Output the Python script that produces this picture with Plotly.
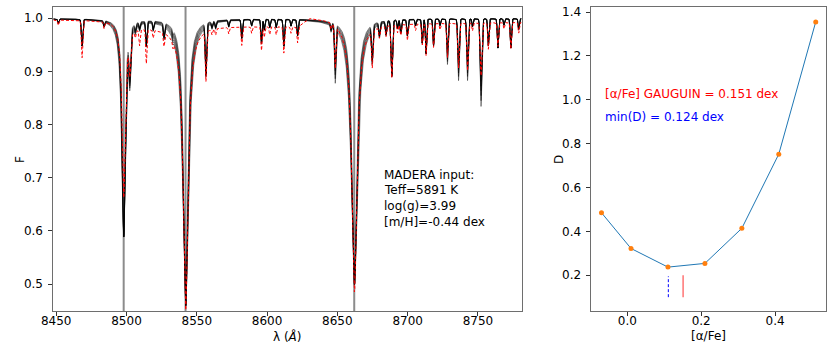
import numpy as np
import plotly.graph_objects as go

# --- spectrum: Ca II triplet region ---
ca_center = [8498.02, 8542.09, 8662.14]
ca_depth_model = [0.41, 0.54, 0.50]
ca_depth_obs = [0.33, 0.54, 0.51]
ca_gamma = [1.4, 2.1, 2.3]
ca_marks = [8498.0, 8542.0, 8662.0]

line_center = [8451.5, 8468.4, 8484.0, 8502.4, 8506.3, 8509.3, 8514.1, 8519.0,
               8526.7, 8533.0, 8556.5, 8560.8, 8563.4, 8572.7, 8582.0, 8589.0,
               8596.0, 8598.0, 8601.9, 8606.5, 8611.9, 8617.0, 8621.7, 8645.5,
               8648.5, 8674.8, 8679.9, 8684.6, 8688.7, 8692.8, 8695.1, 8699.8,
               8705.6, 8710.4, 8713.1, 8718.4, 8723.0, 8728.3, 8736.2, 8742.6,
               8746.1, 8752.2, 8757.4, 8764.2, 8768.5, 8773.4, 8779.0]
line_depth_model = [0.008, 0.05, 0.01, 0.085, 0.012, 0.012, 0.045, 0.015,
                    0.025, 0.01, 0.095, 0.01, 0.012, 0.012, 0.035, 0.012,
                    0.045, 0.02, 0.015, 0.015, 0.05, 0.012, 0.03, 0.012,
                    0.085, 0.065, 0.025, 0.025, 0.105, 0.015, 0.025, 0.03,
                    0.012, 0.045, 0.065, 0.05, 0.012, 0.07, 0.095, 0.095,
                    0.015, 0.135, 0.05, 0.055, 0.012, 0.055, 0.02]
line_depth_obs = [0.01, 0.07, 0.012, 0.07, 0.012, 0.03, 0.065, 0.015,
                  0.025, 0.012, 0.095, 0.01, 0.012, 0.012, 0.035, 0.012,
                  0.045, 0.02, 0.015, 0.015, 0.05, 0.012, 0.03, 0.012,
                  0.08, 0.07, 0.02, 0.02, 0.1, 0.015, 0.02, 0.03,
                  0.012, 0.04, 0.06, 0.045, 0.012, 0.065, 0.085, 0.09,
                  0.015, 0.1, 0.05, 0.045, 0.012, 0.05, 0.02]
line_sigma = [0.4, 0.5, 0.4, 0.6, 0.4, 0.4, 0.45, 0.4,
              0.45, 0.4, 0.5, 0.4, 0.4, 0.4, 0.45, 0.4,
              0.45, 0.4, 0.4, 0.4, 0.45, 0.4, 0.45, 0.4,
              0.5, 0.5, 0.45, 0.45, 0.55, 0.4, 0.45, 0.45,
              0.4, 0.45, 0.45, 0.45, 0.4, 0.5, 0.55, 0.55,
              0.4, 0.6, 0.45, 0.45, 0.4, 0.45, 0.4]
line_alpha = [0, 0, 0, 0, 0, 0, 0, 0, 0, 0, 0, 0, 0, 0, 0, 0,
              0, 0, 0, 0, 0, 0, 0, 0, 1, 0, 0, 0, 0, 0, 0, 0,
              0, 0, 0, 0, 0, 1, 1, 1, 0, 1, 0, 0, 0, 0, 0]

# model grid: one synthetic spectrum per [alpha/Fe]
ca_scale = [0.86, 0.91, 0.96, 1.01, 1.07, 1.13, 1.20]
alpha_line_scale = [0.8, 0.87, 0.94, 1.0, 1.07, 1.14, 1.22]
model_cont = 0.999

obs_cont_wl = [8448, 8490, 8505, 8535, 8560, 8622, 8630, 8646, 8660, 8700, 8781]
obs_cont = [0.997, 0.996, 0.985, 0.98, 0.985, 0.985, 1.002, 1.0, 0.99, 0.99, 0.992]

# --- right panel: distance D vs [alpha/Fe] ---
alpha_fe = [-0.07, 0.01, 0.11, 0.21, 0.31, 0.41, 0.51]
dist = [0.485, 0.322, 0.237, 0.254, 0.414, 0.752, 1.355]
alpha_gauguin = 0.151
alpha_min_d = 0.111

wl = np.arange(8448.0, 8781.05, 0.1)


def spectrum(depths, scale_lines, ca_depths, ca_widths, cont):
    f = np.array(cont, dtype=float) * np.ones_like(wl)
    for c, d, s, a in zip(line_center, depths, line_sigma, line_alpha):
        dd = d * (scale_lines if a else 1.0)
        f *= 1 - dd * np.exp(-0.5 * ((wl - c) / s) ** 2)
    for c, d, g in zip(ca_center, ca_depths, ca_widths):
        f *= 1 - d / (1 + ((wl - c) / g) ** 2)
    return f


fig = go.Figure()

for cs, ls in zip(ca_scale, alpha_line_scale):
    fm = spectrum(line_depth_model, ls, ca_depth_model,
                  [g * cs for g in ca_gamma], model_cont)
    fig.add_trace(go.Scatter(x=wl, y=fm, mode="lines",
                             line=dict(color="rgba(0,0,0,0.45)", width=1),
                             hoverinfo="skip", xaxis="x", yaxis="y"))

fo = spectrum(line_depth_obs, 1.0, ca_depth_obs,
              [g * 0.98 for g in ca_gamma], np.interp(wl, obs_cont_wl, obs_cont))
fig.add_trace(go.Scatter(x=wl, y=fo, mode="lines",
                         line=dict(color="red", width=1, dash="3px,2px"),
                         hoverinfo="skip", xaxis="x", yaxis="y"))

for xm in ca_marks:
    fig.add_shape(type="line", xref="x", yref="y domain", x0=xm, x1=xm, y0=0, y1=1,
                  line=dict(color="#8c8c8c", width=2), layer="below")

fig.add_trace(go.Scatter(x=alpha_fe, y=dist, mode="lines",
                         line=dict(color="#1f77b4", width=1), xaxis="x2", yaxis="y2"))
fig.add_trace(go.Scatter(x=alpha_fe, y=dist, mode="markers",
                         marker=dict(color="#ff7f0e", size=5), xaxis="x2", yaxis="y2"))
fig.add_trace(go.Scatter(x=[alpha_min_d, alpha_min_d], y=[0.1, 0.195], mode="lines",
                         line=dict(color="blue", width=1, dash="3px,2px"),
                         xaxis="x2", yaxis="y2"))
fig.add_trace(go.Scatter(x=[alpha_gauguin, alpha_gauguin], y=[0.1, 0.2], mode="lines",
                         line=dict(color="rgba(255,0,0,0.55)", width=1.5),
                         xaxis="x2", yaxis="y2"))

W, H = 830, 347
FONT = "DejaVu Sans"


def px(x, y):
    return x / W, 1 - y / H


ax = dict(showgrid=False, zeroline=False, showline=True, mirror=True,
          linecolor="#6e6e6e", linewidth=1, ticks="outside", ticklen=4,
          tickcolor="#333", tickfont=dict(size=12, color="black"))
xax = dict(ax, ticklabelstandoff=-6)
yax = dict(ax, ticklabelstandoff=3)

ydom = [1 - 311 / H, 1 - 5 / H]
fig.update_layout(
    width=W, height=H,
    margin=dict(l=0, r=0, t=0, b=0),
    paper_bgcolor="white", plot_bgcolor="white",
    font=dict(family=FONT, size=12, color="black"),
    showlegend=False,
    xaxis=dict(xax, domain=[42 / W, 517 / W], range=[8448, 8781],
               tickvals=[8450, 8500, 8550, 8600, 8650, 8700, 8750]),
    yaxis=dict(yax, domain=ydom, range=[0.449, 1.021],
               tickvals=[0.5, 0.6, 0.7, 0.8, 0.9, 1.0], tickformat=".1f"),
    xaxis2=dict(xax, domain=[588 / W, 826 / W], range=[-0.097, 0.538],
                tickvals=[0.0, 0.2, 0.4], tickformat=".1f", anchor="y2"),
    yaxis2=dict(yax, domain=ydom, range=[0.036, 1.423], anchor="x2",
                tickvals=[0.2, 0.4, 0.6, 0.8, 1.0, 1.2, 1.4], tickformat=".1f"),
)

notes = [
    (375, 174, "MADERA input:", "black", "left", 0),
    (375, 189, "Teff=5891 K", "black", "left", 0),
    (375, 205, "log(g)=3.99", "black", "left", 0),
    (375, 221, "[m/H]=-0.44 dex", "black", "left", 0),
    (600, 93, "[α/Fe] GAUGUIN = 0.151 dex", "red", "left", 0),
    (600, 116, "min(D) = 0.124 dex", "blue", "left", 0),
    (280, 336, "λ (<i>Å</i>)", "black", "center", 0),
    (8, 158, "F", "black", "center", -90),
    (555, 158, "D", "black", "center", -90),
    (707, 336, "[α/Fe]", "black", "center", 0),
]
for x, y, t, c, al, rot in notes:
    xp, yp = px(x, y)
    fig.add_annotation(x=xp, y=yp, xref="paper", yref="paper", text=t,
                       showarrow=False, xanchor=al, yanchor="middle",
                       textangle=rot, font=dict(size=12, color=c, family=FONT))

# page body margin would shift the figure by 8px; drop it
fig.write_html("out.html", config={"displayModeBar": False},
               post_script="document.body.style.margin='0';")
